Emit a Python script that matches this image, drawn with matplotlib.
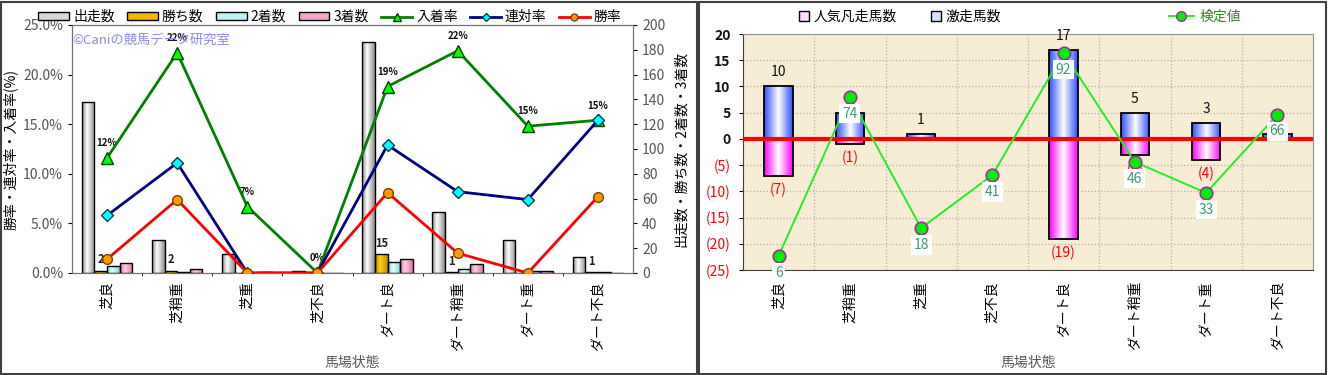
import numpy as np
import matplotlib
matplotlib.use('Agg')
from matplotlib import pyplot as plt
from matplotlib.colors import LinearSegmentedColormap
from matplotlib.patches import Patch, Rectangle
from matplotlib.lines import Line2D

plt.rcParams['font.family'] = ['Noto Sans CJK JP', 'DejaVu Sans']

# ---- data ----
categories = ['芝良', '芝稍重', '芝重', '芝不良', 'ダート良', 'ダート稍重', 'ダート重', 'ダート不良']

# left chart: counts (right axis)
runs = [138, 27, 15, 2, 186, 49, 27, 13]
wins = [2, 2, 0, 0, 15, 1, 0, 1]
seconds = [6, 1, 0, 0, 9, 3, 2, 1]
thirds = [8, 3, 1, 0, 11, 7, 2, 0]
# left chart: rates in % (left axis)
place_rate = [11.6, 22.2, 6.7, 0.0, 18.8, 22.4, 14.8, 15.4]
quinella_rate = [5.8, 11.1, 0.0, 0.0, 12.9, 8.2, 7.4, 15.4]
win_rate = [1.4, 7.4, 0.0, 0.0, 8.1, 2.0, 0.0, 7.7]

# right chart
surge_count = [10, 5, 1, 0, 17, 5, 3, 1]        # 激走馬数
flop_count = [-7, -1, 0, 0, -19, -3, -4, 0]     # 人気凡走馬数
test_pos = [-22.3, 8.0, -17.0, -6.9, 16.4, -4.4, -10.3, 4.6]
test_value = [6, 74, 18, 41, 92, 46, 33, 66]   # 検定値

bg = '#F7ECD4'
grid_kw = dict(color='#B8B0A0', linestyle=':', linewidth=0.9)


def shade(axis, bars, dark, light='white', mid=0.4):
    cmap = LinearSegmentedColormap.from_list('g', [(0, dark), (mid, light), (1, dark)])
    strip = np.linspace(0, 1, 64).reshape(1, -1)
    for b in bars:
        h = b.get_height()
        if h == 0:
            continue
        x0, y0 = b.get_x(), b.get_y()
        im = axis.imshow(strip, cmap=cmap, aspect='auto', interpolation='bilinear',
                         extent=(x0, x0 + b.get_width(), y0, y0 + h), zorder=2.9)
        im.set_clip_path(b)


fig = plt.figure(figsize=(13.28, 3.75), dpi=100)

# panel frames
fig.add_artist(Rectangle((1 / 1328, 1 / 375), 696 / 1328, 372 / 375, transform=fig.transFigure,
                         fill=False, edgecolor='#404040', linewidth=1.5))
fig.add_artist(Rectangle((699 / 1328, 1 / 375), 627 / 1328, 372 / 375, transform=fig.transFigure,
                         fill=False, edgecolor='#404040', linewidth=1.5))

# ================= left chart =================
x = np.arange(len(categories))
ax = fig.add_axes([72 / 1328, 1 - 273 / 375, 561 / 1328, 248 / 375])
axb = ax.twinx()
ax.set_zorder(axb.get_zorder() + 1)
ax.patch.set_visible(False)
axb.patch.set_facecolor(bg)

w = 0.18
bar_specs = [(runs, '#8C8C8C', 'white'), (wins, '#C08A00', '#FFD21A'),
             (seconds, '#7FD6D6', '#E8FFFF'), (thirds, '#E070A8', '#FFD0E8')]
bar_sets = []
for i, (vals, dark, light) in enumerate(bar_specs):
    bs = axb.bar(x + (i - 1.5) * w, vals, width=w, facecolor='none',
                 edgecolor='black', linewidth=1.0, zorder=3)
    shade(axb, bs, dark, light)
    bar_sets.append(bs)

for b, v in zip(bar_sets[1], wins):
    if v > 0:
        axb.annotate(str(v), (b.get_x() + b.get_width() / 2, v), xytext=(0, 3),
                     textcoords='offset points', ha='center', va='bottom',
                     fontsize=8, fontweight='bold', color='#222222')

axb.set_ylim(0, 200)
axb.set_yticks(range(0, 201, 20))
axb.set_yticks([40, 80, 120, 160], minor=True)
axb.yaxis.grid(True, which='minor', **grid_kw)
axb.set_xticks(np.arange(0.5, 7.5, 1), minor=True)
axb.xaxis.grid(True, which='minor', **grid_kw)
axb.set_axisbelow(True)
axb.tick_params(axis='y', labelsize=10, labelcolor='#555555', length=3, which='major')
axb.tick_params(which='minor', length=0)
axb.set_ylabel('出走数・勝ち数・2着数・3着数', fontsize=10, labelpad=6)

ax.plot(x, place_rate, color='#008000', linewidth=2, marker='^', markersize=9,
        markerfacecolor='#00FF00', markeredgecolor='#004000', zorder=5)
ax.plot(x, quinella_rate, color='#000080', linewidth=2, marker='D', markersize=6,
        markerfacecolor='#00FFFF', markeredgecolor='#004060', zorder=5)
ax.plot(x, win_rate, color='#FF0000', linewidth=2, marker='o', markersize=7,
        markerfacecolor='#FF9900', markeredgecolor='#804000', zorder=5)
for xi, v in zip(x, place_rate):
    ax.annotate(f'{round(v)}%', (xi, v), xytext=(0, 7), textcoords='offset points',
                ha='center', va='bottom', fontsize=7, fontweight='bold', color='#111111')

ax.set_xlim(-0.5, 7.5)
ax.set_ylim(0, 25)
ax.set_yticks(range(0, 26, 5))
ax.set_yticklabels([f'{v:.1f}%' for v in range(0, 26, 5)])
ax.tick_params(axis='y', labelsize=10, labelcolor='#555555', length=3)
ax.set_xticks(x)
ax.set_xticklabels(categories, rotation=90, fontsize=10)
ax.tick_params(axis='x', length=0, pad=6)
ax.set_ylabel('勝率・連対率・入着率(%)', fontsize=10, labelpad=4)
ax.set_xlabel('馬場状態', fontsize=10, color='#555555', labelpad=4)
for a in (ax, axb):
    for s in a.spines.values():
        s.set_color('#707070')

ax.text(0.0, 0.94, '©Caniの競馬データ研究室', transform=ax.transAxes, fontsize=9.5,
        color='#8A8AF0', va='center', ha='left', zorder=6)

left_handles = [
    Patch(facecolor='#D8D8D8', edgecolor='black', label='出走数'),
    Patch(facecolor='#F0B800', edgecolor='black', label='勝ち数'),
    Patch(facecolor='#BFF2F2', edgecolor='black', label='2着数'),
    Patch(facecolor='#F2A6CC', edgecolor='black', label='3着数'),
    Line2D([], [], color='#008000', lw=2, marker='^', markerfacecolor='#00FF00',
           markeredgecolor='#004000', markersize=6, label='入着率'),
    Line2D([], [], color='#000080', lw=2, marker='D', markerfacecolor='#00FFFF',
           markeredgecolor='#004060', markersize=4, label='連対率'),
    Line2D([], [], color='#FF0000', lw=2, marker='o', markerfacecolor='#FF9900',
           markeredgecolor='#804000', markersize=5, label='勝率'),
]
fig.legend(handles=left_handles, loc='center', bbox_to_anchor=(330 / 1328, 1 - 17 / 375),
           ncol=7, frameon=False, fontsize=10, handlelength=2.2, handleheight=0.45,
           handletextpad=0.3, columnspacing=0.9)

# ================= right chart =================
axr = fig.add_axes([743 / 1328, 1 - 270 / 375, 570 / 1328, 236 / 375])
axr.set_facecolor(bg)
surge_bars = axr.bar(x, surge_count, width=0.4, facecolor='none', edgecolor='black',
                     linewidth=1.3, zorder=3)
flop_bars = axr.bar(x, flop_count, width=0.4, facecolor='none', edgecolor='black',
                    linewidth=1.3, zorder=3)
shade(axr, surge_bars, '#3050FF', 'white', 0.5)
shade(axr, flop_bars, '#FF00FF', 'white', 0.5)
axr.axhline(0, color='#FF0000', linewidth=3, zorder=3.5)

for xi, v in zip(x, surge_count):
    if v > 0:
        axr.annotate(str(v), (xi, v), xytext=(0, 5), textcoords='offset points',
                     ha='center', va='bottom', fontsize=10, color='#111111', zorder=4)
for xi, v in zip(x, flop_count):
    if v < 0:
        axr.annotate(f'({-v})', (xi, v), xytext=(0, -5), textcoords='offset points',
                     ha='center', va='top', fontsize=10, color='#FF0000', zorder=4)

axr.plot(x, test_pos, color='#22EE22', linewidth=1.4, marker='o', markersize=9,
         markerfacecolor='#00EE00', markeredgecolor='#993399', markeredgewidth=1.2, zorder=5)
for xi, v, t in zip(x, test_pos, test_value):
    axr.annotate(str(t), (xi, v), xytext=(0, -7), textcoords='offset points',
                 ha='center', va='top', fontsize=10, color='#3A9A70', zorder=6,
                 bbox=dict(boxstyle='square,pad=0.2', facecolor='white', edgecolor='none'))

axr.set_xlim(-0.5, 7.5)
axr.set_ylim(-25, 20)
yt = list(range(-25, 21, 5))
axr.set_yticks(yt)
axr.set_yticklabels([str(v) if v >= 0 else f'({-v})' for v in yt])
for lbl, v in zip(axr.get_yticklabels(), yt):
    lbl.set_color('#FF0000' if v < 0 else '#111111')
    if v >= 0:
        lbl.set_fontweight('bold')
axr.tick_params(axis='y', labelsize=10, length=3, pad=6)
axr.yaxis.grid(True, **grid_kw)
axr.set_xticks(np.arange(0.5, 7.5, 1), minor=True)
axr.xaxis.grid(True, which='minor', **grid_kw)
axr.tick_params(which='minor', length=0)
axr.set_axisbelow(True)
axr.set_xticks(x)
axr.set_xticklabels(categories, rotation=90, fontsize=10)
axr.tick_params(axis='x', length=0, pad=8)
axr.set_xlabel('馬場状態', fontsize=10, color='#555555', labelpad=4)
for s in axr.spines.values():
    s.set_color('#909090')
axr.spines['left'].set_color('#404040')
axr.spines['bottom'].set_color('#404040')

bar_handles = [Patch(facecolor='#FFD8FF', edgecolor='black', label='人気凡走馬数'),
               Patch(facecolor='#D8E0FF', edgecolor='black', label='激走馬数')]
fig.legend(handles=bar_handles, loc='center', bbox_to_anchor=(900 / 1328, 1 - 17 / 375),
           ncol=2, frameon=False, fontsize=10, handlelength=0.7, handleheight=0.7,
           handletextpad=0.3, columnspacing=2.5)
line_handle = [Line2D([], [], color='#22EE22', lw=1.4, marker='o', markersize=7,
                      markerfacecolor='#00EE00', markeredgecolor='#993399', label='検定値')]
leg = fig.legend(handles=line_handle, loc='center', bbox_to_anchor=(1205 / 1328, 1 - 17 / 375),
                 frameon=False, fontsize=10, handlelength=1.8, handletextpad=0.4)
for t in leg.get_texts():
    t.set_color('#2E8B2E')

fig.savefig('out.png', dpi=100)
